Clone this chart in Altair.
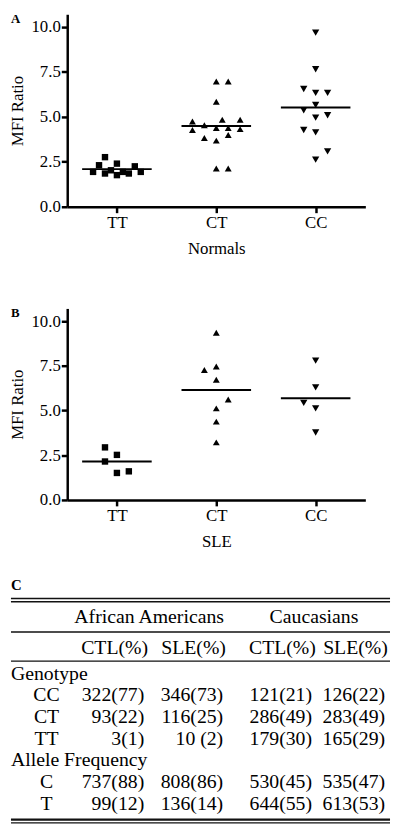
import altair as alt
import pandas as pd

groups = ["TT", "CT", "CC"]

# Panel A - Normals (MFI ratio values, and column slot of each symbol in the dot plot)
normals_tt = [1.94, 2.31, 2.76, 1.85, 2.03, 2.40, 1.76, 1.94, 1.85, 2.25, 1.94]
normals_tt_col = [-4, -3, -2, -2, -1, 0, 0, 1, 2, 3, 4]
normals_ct = [6.97, 6.97, 5.84, 4.74, 4.27, 4.54, 3.83, 4.38, 3.68, 4.84, 4.38, 3.99, 4.84, 4.32, 2.13, 2.13]
normals_ct_col = [0, 2, 0, -4, -4, -2, -2, 0, 0, 1, 2, 2, 4, 4, 0, 2]
normals_cc = [9.69, 7.65, 6.55, 6.34, 6.34, 5.66, 5.37, 4.96, 5.09, 4.27, 4.14, 3.08, 2.62]
normals_cc_col = [0, 0, -2, 0, 2, 0, -2, 0, 2, -2, 0, 2, 0]

# Panel B - SLE
sle_tt = [2.94, 2.15, 2.52, 1.51, 1.60]
sle_tt_col = [-2, -2, 0, 0, 2]
sle_ct = [9.35, 7.27, 7.46, 6.72, 5.62, 5.12, 4.38, 3.22]
sle_ct_col = [0, -2, 0, 0, 2, 0, 0, 0]
sle_cc = [7.79, 6.30, 5.43, 5.12, 3.77]
sle_cc_col = [0, 0, -2, 0, 0]

# Panel C - table
populations = ["African Americans", "Caucasians"]
col_heads = ["CTL(%)", "SLE(%)", "CTL(%)", "SLE(%)"]
sections = ["Genotype", "Allele Frequency"]
row_labels = ["CC", "CT", "TT", "C", "T"]
aa_ctl = ["322(77)", "93(22)", "3(1)", "737(88)", "99(12)"]
aa_sle = ["346(73)", "116(25)", "10 (2)", "808(86)", "136(14)"]
ca_ctl = ["121(21)", "286(49)", "179(30)", "530(45)", "644(55)"]
ca_sle = ["126(22)", "283(49)", "165(29)", "535(47)", "613(53)"]

FONT = "Liberation Serif"
SLOT = 0.06
PW = 302
YMAX = 10.71
label_expr = "[" + ",".join("'%s'" % g for g in groups) + "][datum.value]"


def panel(vals, cols, letter, xtitle, sq_size, tri_size, ph):
    recs = []
    for gi, (vs, cs) in enumerate(zip(vals, cols)):
        for v, c in zip(vs, cs):
            recs.append({"group": groups[gi], "gi": gi, "value": v, "col": c})
    df = pd.DataFrame(recs)
    xscale = alt.Scale(domain=[-0.5, 2.5], nice=False, zero=False)
    yscale = alt.Scale(domain=[0, YMAX], nice=False, zero=True)
    base = alt.Chart(df)
    pts = base.transform_calculate(
        xpos="datum.gi + datum.col * %f" % SLOT
    ).mark_point(filled=True, opacity=1, color="black", strokeWidth=0).encode(
        x=alt.X("xpos:Q", scale=xscale,
                axis=alt.Axis(values=[0, 1, 2], labelExpr=label_expr, title=xtitle,
                              labelPadding=2, titlePadding=10)),
        y=alt.Y("value:Q", scale=yscale,
                axis=alt.Axis(values=[0, 2.5, 5, 7.5, 10], format=".1f", title="MFI Ratio",
                              labelPadding=1, titlePadding=5)),
        shape=alt.Shape("group:N", scale=alt.Scale(domain=groups,
                        range=["square", "triangle-up", "triangle-down"]), legend=None),
        size=alt.Size("group:N", scale=alt.Scale(domain=groups,
                      range=[sq_size, tri_size, tri_size]), legend=None),
    )
    mean = base.transform_aggregate(
        mean="mean(value)", groupby=["gi"]
    ).transform_calculate(
        x1="datum.gi - 0.35", x2="datum.gi + 0.35"
    ).mark_rule(color="black", strokeWidth=2).encode(
        x=alt.X("x1:Q", scale=xscale), x2="x2:Q", y=alt.Y("mean:Q", scale=yscale)
    )
    let = alt.Chart(pd.DataFrame({"t": [letter]})).mark_text(
        align="left", baseline="top", font=FONT, fontSize=13, fontWeight="bold", color="black"
    ).encode(x=alt.value(-57), y=alt.value(-1), text="t:N")
    return alt.layer(pts, mean, let).properties(width=PW, height=ph)


chartA = panel([normals_tt, normals_ct, normals_cc],
               [normals_tt_col, normals_ct_col, normals_cc_col], "A", "Normals", 42, 55, 195)
chartB = panel([sle_tt, sle_ct, sle_cc],
               [sle_tt_col, sle_ct_col, sle_cc_col], "B", "SLE", 64, 70, 194)

# ---- table ----
# the table's origin lines up with the plot origin of panels A/B (57px from the left edge)
TW, S = 327, 22.0
ydom = [-4.5, 6.92]
TH = (ydom[1] - ydom[0]) * S
tx = alt.Scale(domain=[-1, 0, 1, 2, 3, 4, 5], range=[-57, -21, 78, 158, 248, 322, 327])
ty = alt.Scale(domain=ydom, reverse=True, nice=False, zero=False)

cells, rlabs, secs = [], [], []
row_pos = [1, 2, 3, 5, 6]
for i, r in enumerate(row_pos):
    rlabs.append({"t": row_labels[i], "r": r, "c": 0})
    for c, col in enumerate([aa_ctl, aa_sle, ca_ctl, ca_sle]):
        cells.append({"t": col[i], "r": r, "c": c + 1})
for s, r in zip(sections, [0, 4]):
    secs.append({"t": s, "r": r, "c": -1})
heads = [{"t": h, "r": -1.2, "c": i + 1} for i, h in enumerate(col_heads)]
pops = [{"t": p, "r": -2.6, "c": c} for p, c in zip(populations, [1.5, 3.5])]
rules = [{"r": r, "c": -1, "c2": 5, "w": w} for r, w in
         [(-3.46, 1.5), (-3.31, 1.5), (-1.92, 1.4), (-0.58, 1.4), (6.72, 2.2), (6.87, 1.5)]]
letterC = [{"t": "C", "r": -4.1, "c": -1}]

tstyle = dict(font=FONT, fontSize=20, color="black", baseline="middle")


def txt(data, align, dx=0, **kw):
    st = dict(tstyle)
    st.update(kw)
    return alt.Chart(pd.DataFrame(data)).mark_text(align=align, dx=dx, **st).encode(
        x=alt.X("c:Q", scale=tx, axis=None),
        y=alt.Y("r:Q", scale=ty, axis=None),
        text="t:N",
    )


rule_layer = alt.Chart(pd.DataFrame(rules)).mark_rule(color="#111").encode(
    x=alt.X("c:Q", scale=tx, axis=None), x2="c2:Q",
    y=alt.Y("r:Q", scale=ty, axis=None),
    strokeWidth=alt.StrokeWidth("w:Q", scale=None),
)

chartC = alt.layer(
    rule_layer,
    txt(cells, "right"),
    txt(rlabs, "center"),
    txt(secs, "left"),
    txt(heads, "center", dx=-30),
    txt(pops, "center", dx=-35),
    txt(letterC, "left", fontSize=15, fontWeight="bold"),
).properties(width=TW, height=TH)

top = alt.vconcat(chartA, chartB, spacing=52)
chart = alt.vconcat(top, chartC, spacing=27).properties(padding=0).configure(
    padding=0
).configure_view(
    stroke=None
).configure_axis(
    domainColor="black", domainWidth=2.5, tickColor="black", tickWidth=2.5, tickSize=6,
    labelFont=FONT, labelFontSize=17, labelColor="black",
    titleFont=FONT, titleFontSize=17, titleFontWeight="normal", titleColor="black",
    grid=False,
)

chart.save("out.html", embed_options={"renderer": "svg", "actions": False})
